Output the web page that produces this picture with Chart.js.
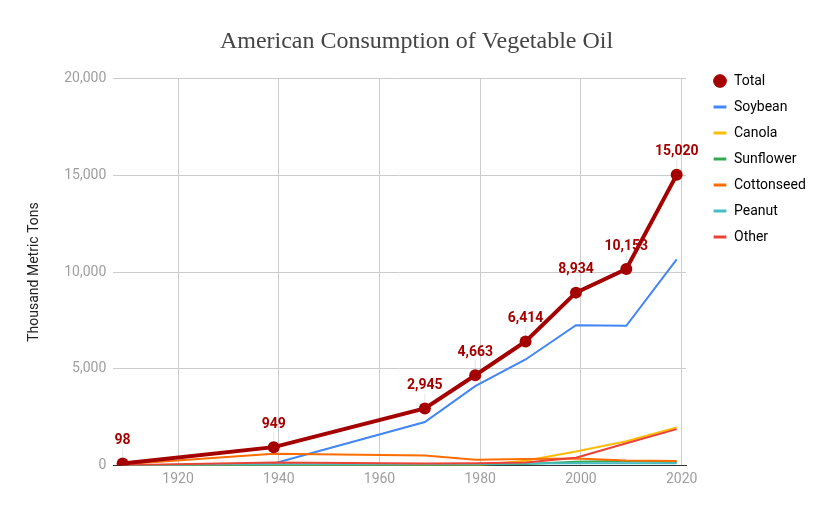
<!DOCTYPE html>
<html>
<head>
<meta charset="utf-8">
<script src="https://cdn.jsdelivr.net/npm/chart.js@4.4.1/dist/chart.umd.min.js"></script>
<style>
  html, body { margin: 0; padding: 0; background: #fff; }
  #wrap { width: 833px; height: 514px; position: relative; }
</style>
</head>
<body>
<div id="wrap"><canvas id="oilChart"></canvas></div>
<script>
// Years of each observation
var years = [1909, 1939, 1969, 1979, 1989, 1999, 2009, 2019];

// Series values, thousand metric tons
var total      = [98, 949, 2945, 4663, 6414, 8934, 10153, 15020];
var soybean    = [0, 100, 2250, 4100, 5480, 7250, 7220, 10650];
var canola     = [0, 0, 0, 0, 250, 720, 1250, 1970];
var sunflower  = [0, 0, 0, 40, 80, 200, 230, 180];
var cottonseed = [70, 610, 520, 300, 340, 360, 260, 230];
var peanut     = [10, 60, 70, 80, 100, 110, 110, 120];
var other      = [18, 150, 100, 120, 150, 400, 1150, 1880];

// Axis tick labels
var xTicks = [1920, 1940, 1960, 1980, 2000, 2020];
var yTicks = [0, 5000, 10000, 15000, 20000];

var seriesNames  = ['Total', 'Soybean', 'Canola', 'Sunflower', 'Cottonseed', 'Peanut', 'Other'];
var seriesValues = [total, soybean, canola, sunflower, cottonseed, peanut, other];
var seriesColors = ['#a50000', '#4285f4', '#fbbc04', '#34a853', '#ff6d01', '#46bdc6', '#ea4335'];
// lower order is drawn on top
var seriesOrder  = [0, 6, 5, 4, 3, 2, 1];

function toPoints(vals) {
  return years.map(function(y, i) { return { x: y, y: vals[i] }; });
}

var datasets = seriesNames.map(function(name, i) {
  var isTotal = i === 0;
  return {
    label: name,
    data: toPoints(seriesValues[i]),
    borderColor: seriesColors[i],
    backgroundColor: seriesColors[i],
    borderWidth: isTotal ? 4 : 2,
    pointRadius: isTotal ? 6 : 0,
    pointHoverRadius: isTotal ? 6 : 0,
    pointBorderWidth: 0,
    tension: 0,
    order: seriesOrder[i]
  };
});

// Value labels above the Total points
var totalLabels = {
  id: 'totalLabels',
  afterDatasetsDraw: function(chart) {
    var meta = chart.getDatasetMeta(0);
    var ctx = chart.ctx;
    ctx.save();
    meta.data.forEach(function(pt, i) {
      ctx.strokeStyle = 'rgba(0,0,0,0.10)';
      ctx.lineWidth = 1;
      ctx.beginPath();
      ctx.moveTo(pt.x, pt.y - 7);
      ctx.lineTo(pt.x, pt.y - 15);
      ctx.stroke();
      ctx.fillStyle = seriesColors[0];
      ctx.font = 'bold 14px Roboto';
      ctx.textAlign = 'center';
      ctx.textBaseline = 'middle';
      ctx.fillText(total[i].toLocaleString('en-US'), pt.x, pt.y - 23);
    });
    ctx.restore();
  }
};

// Fixed legend width and offset so the plot ends where the reference does
var legendPlace = {
  id: 'legendPlace',
  beforeLayout: function(chart) {
    var lg = chart.legend;
    if (lg && !lg._fixed) {
      var fit = lg.fit;
      lg.fit = function() {
        fit.call(this);
        this.width = 147;
      };
      lg._fixed = true;
    }
  },
  afterLayout: function(chart) {
    chart.legend.left += 15;
    chart.legend.top += 62;
  }
};

var ctx = document.getElementById('oilChart').getContext('2d');
var chart = new Chart(ctx, {
  type: 'line',
  data: { datasets: datasets },
  plugins: [legendPlace, totalLabels],
  options: {
    responsive: true,
    maintainAspectRatio: false,
    animation: false,
    layout: { padding: 0 },
    plugins: {
      title: {
        display: true,
        text: 'American Consumption of Vegetable Oil',
        color: '#444',
        font: { family: '"Liberation Serif", "DejaVu Serif", serif', size: 24, weight: 'normal' },
        padding: { top: 27.5, bottom: 22.2 }
      },
      legend: {
        position: 'right',
        align: 'start',
        labels: {
          usePointStyle: true,
          boxWidth: 14,
          boxHeight: 9,
          padding: 12,
          color: '#222',
          font: { family: 'Roboto', size: 14 },
          generateLabels: function(chart) {
            return chart.data.datasets.map(function(ds, i) {
              return {
                text: ds.label,
                datasetIndex: i,
                fillStyle: ds.borderColor,
                strokeStyle: ds.borderColor,
                lineWidth: i === 0 ? 1 : 3,
                pointStyle: i === 0 ? 'circle' : 'line',
                hidden: false
              };
            });
          }
        }
      },
      tooltip: { enabled: false }
    },
    scales: {
      x: {
        type: 'linear',
        min: 1907.15,
        max: 2020.85,
        afterBuildTicks: function(scale) {
          scale.ticks = xTicks.map(function(v) { return { value: v }; });
        },
        afterFit: function(scale) { scale.height = 48.5; },
        ticks: {
          color: '#9e9e9e',
          padding: 6,
          font: { family: 'Roboto', size: 14 },
          callback: function(v) { return String(v); }
        },
        grid: { color: '#cccccc', drawTicks: false },
        border: { display: true, color: '#333', width: 1 }
      },
      y: {
        min: 0,
        max: 20000,
        afterBuildTicks: function(scale) {
          scale.ticks = yTicks.map(function(v) { return { value: v }; });
        },
        afterFit: function(scale) { scale.width = 113.3; },
        ticks: {
          color: '#9e9e9e',
          padding: 7,
          font: { family: 'Roboto', size: 14 },
          callback: function(v) { return Number(v).toLocaleString('en-US'); }
        },
        grid: {
          drawTicks: false,
          color: function(c) { return c.tick && c.tick.value === 0 ? '#333' : '#cccccc'; }
        },
        border: { display: false },
        title: {
          display: true,
          text: 'Thousand Metric Tons',
          color: '#222',
          font: { family: 'Roboto', size: 14 },
          padding: { top: 25.6, bottom: 0 }
        }
      }
    }
  }
});
</script>
</body>
</html>
